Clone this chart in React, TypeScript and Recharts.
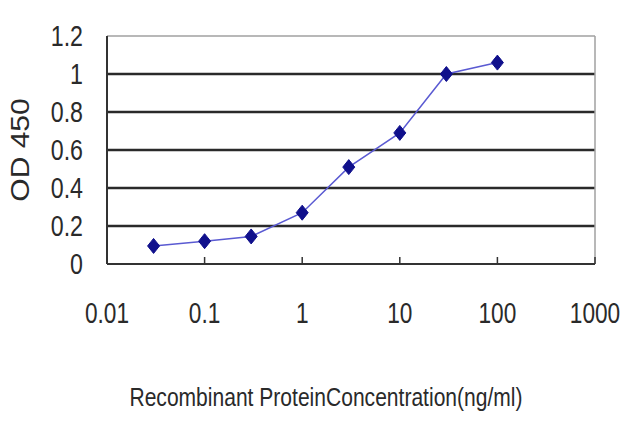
import React from "react";
import { LineChart, Line, XAxis, YAxis, ReferenceLine } from "recharts";

const concentrations = [0.03, 0.1, 0.3, 1, 3, 10, 30, 100];
const od450 = [0.095, 0.12, 0.145, 0.27, 0.51, 0.69, 1.0, 1.06];
const xTicks = [0.01, 0.1, 1, 10, 100, 1000];
const xTickLabels = ["0.01", "0.1", "1", "10", "100", "1000"];
const yTicks = [0, 0.2, 0.4, 0.6, 0.8, 1, 1.2];
const yTickLabels = ["0", "0.2", "0.4", "0.6", "0.8", "1", "1.2"];
const gridValues = [0.2, 0.4, 0.6, 0.8, 1.0];

const data = concentrations.map((c, i) => ({ x: c, y: od450[i] }));

const FONT = "'Liberation Sans', Arial, sans-serif";
const TEXT = "#2a2a2a";

const XTick = (props: any) => {
  const { x, y, payload } = props;
  const idx = xTicks.indexOf(payload.value);
  const label = idx >= 0 ? xTickLabels[idx] : String(payload.value);
  return (
    <g>
      <line x1={x} y1={y} x2={x} y2={y - 7} stroke="#333" strokeWidth={1.5} />
      <g transform={`translate(${x},${y + 59})`}>
        <text transform="scale(0.84,1.08)" textAnchor="middle" fontFamily={FONT} fontSize={27} fill={TEXT}>
          {label}
        </text>
      </g>
    </g>
  );
};

const YTick = (props: any) => {
  const { x, y, payload } = props;
  const idx = yTicks.indexOf(payload.value);
  const label = idx >= 0 ? yTickLabels[idx] : String(payload.value);
  return (
    <g transform={`translate(${x - 24},${y + 10})`}>
      <text transform="scale(0.86,1.08)" textAnchor="end" fontFamily={FONT} fontSize={27} fill={TEXT}>
        {label}
      </text>
    </g>
  );
};

const Diamond = (props: any) => {
  const { cx, cy, index } = props;
  if (cx == null || cy == null) return <g key={index} />;
  return (
    <path
      key={index}
      d={`M${cx},${cy - 7.5} L${cx + 6},${cy} L${cx},${cy + 7.5} L${cx - 6},${cy} Z`}
      fill="#10108c"
      stroke="#10108c"
      strokeWidth={1}
    />
  );
};

const XLabel = () => (
  <g transform="translate(326,406)">
    <text transform="scale(0.877,1.08)" textAnchor="middle" fontFamily={FONT} fontSize={24} fill={TEXT}>
      Recombinant ProteinConcentration(ng/ml)
    </text>
  </g>
);

const YLabel = () => (
  <g transform="translate(29,150) rotate(-90)">
    <text transform="scale(1,0.87)" textAnchor="middle" fontFamily={FONT} fontSize={30} fill={TEXT}>
      OD 450
    </text>
  </g>
);

export default function App() {
  return (
    <div style={{ position: "absolute", left: 0, top: 0, width: 640, height: 427, background: "#fff" }}>
      <LineChart width={640} height={427} data={data} margin={{ top: 36, right: 45, left: 0, bottom: 0 }}>
        <XAxis
          dataKey="x"
          type="number"
          scale="log"
          domain={[0.01, 1000]}
          ticks={xTicks}
          allowDataOverflow
          height={163}
          tickSize={0}
          tickMargin={0}
          tickLine={false}
          axisLine={{ stroke: "#333", strokeWidth: 2 }}
          tick={<XTick />}
          interval={0}
          label={{ content: XLabel }}
        />
        <YAxis
          type="number"
          domain={[0, 1.2]}
          ticks={yTicks}
          width={107}
          tickSize={0}
          tickMargin={0}
          tickLine={false}
          axisLine={{ stroke: "#333", strokeWidth: 2 }}
          tick={<YTick />}
          interval={0}
          label={{ content: YLabel }}
        />
        {gridValues.map((v) => (
          <ReferenceLine key={v} y={v} stroke="#2a2a2a" strokeWidth={2.5} />
        ))}
        <ReferenceLine y={1.2} stroke="#a0a0a0" strokeWidth={1.5} />
        <ReferenceLine x={1000} stroke="#a0a0a0" strokeWidth={1.5} />
        <Line
          type="linear"
          dataKey="y"
          stroke="#5a5ad2"
          strokeWidth={1.5}
          dot={Diamond}
          activeDot={false}
          isAnimationActive={false}
        />
      </LineChart>
    </div>
  );
}
